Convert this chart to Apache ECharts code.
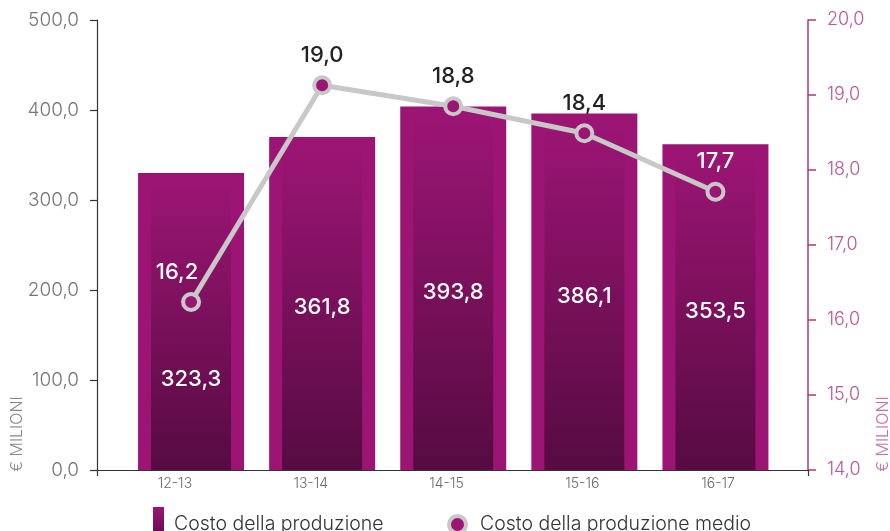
<!DOCTYPE html>
<html>
<head>
<meta charset="utf-8">
<script src="https://cdn.jsdelivr.net/npm/echarts@6/dist/echarts.min.js"></script>
<style>
html,body{margin:0;padding:0;background:#fff;}
#chart{width:890px;height:531px;}
</style>
</head>
<body>
<div id="chart"></div>
<script>
// ---- data ----
const categories = ['12-13', '13-14', '14-15', '15-16', '16-17'];
// printed values of "Costo della produzione" (€ milioni)
const costValues = [323.3, 361.8, 393.8, 386.1, 353.5];
// heights of the outer bar frame as drawn in the picture
const frameValues = [330, 370, 404, 396, 362];
// "Costo della produzione medio": positions as drawn, and printed labels
const avgValues = [16.24, 19.13, 18.85, 18.49, 17.71];
const avgLabels = ['16,2', '19,0', '18,8', '18,4', '17,7'];
const leftTicks = [0, 500, 100];
const rightTicks = [14, 20, 1];

const FONT = 'Inter, "Open Sans", sans-serif';
const MAG = '#9C1574';
const fmt = v => Number(v).toFixed(1).replace('.', ',');

const innerGrad = new echarts.graphic.LinearGradient(0, 0, 0, 1, [
  {offset: 0, color: '#9C1574'},
  {offset: 1, color: '#560B42'}
]);

const chart = echarts.init(document.getElementById('chart'), null, {renderer: 'canvas'});
chart.setOption({
  backgroundColor: '#ffffff',
  animation: false,
  textStyle: {fontFamily: FONT},
  grid: [
    {left: 125.5, right: 109, top: 20, bottom: 61},
    {left: 107, right: 104, top: 20, bottom: 61},
    {left: 97, right: 82, top: 20, bottom: 61}
  ],
  xAxis: [
    {type: 'category', gridIndex: 0, data: categories, show: false},
    {type: 'category', gridIndex: 0, data: categories, show: false},
    {type: 'category', gridIndex: 1, data: categories,
      axisLine: {show: false}, axisTick: {show: false},
      axisLabel: {color: '#6a6a6a', fontSize: 14, margin: 7, fontFamily: FONT, fontWeight: 300}},
    {type: 'value', gridIndex: 2, min: 0, max: 1, interval: 1,
      axisLine: {show: true, lineStyle: {color: '#333333', width: 1.2}},
      axisTick: {show: true, length: 6, lineStyle: {color: '#333333', width: 1.2}},
      axisLabel: {show: false}, splitLine: {show: false}}
  ],
  yAxis: [
    {type: 'value', gridIndex: 0, position: 'left', offset: 28.5,
      min: leftTicks[0], max: leftTicks[1], interval: leftTicks[2],
      axisLine: {show: true, lineStyle: {color: '#333333', width: 1.2}},
      axisTick: {show: true, length: 7, lineStyle: {color: '#333333', width: 1.2}},
      axisLabel: {color: '#777777', fontSize: 19, margin: 18, formatter: fmt, fontFamily: FONT, fontWeight: 300},
      splitLine: {show: false}},
    {type: 'value', gridIndex: 0, position: 'right', offset: 27,
      min: rightTicks[0], max: rightTicks[1], interval: rightTicks[2],
      axisLine: {show: true, lineStyle: {color: '#A8388A', width: 1.5}},
      axisTick: {show: true, length: 8, lineStyle: {color: '#A8388A', width: 1.5}},
      axisLabel: {color: '#B8559E', fontSize: 18, margin: 19, formatter: fmt, fontFamily: FONT, fontWeight: 300},
      splitLine: {show: false}},
    {type: 'value', gridIndex: 1, show: false},
    {type: 'value', gridIndex: 2, show: false}
  ],
  legend: [
    {data: ['Costo della produzione'], left: 148, top: 502, itemWidth: 11, itemHeight: 34,
      icon: 'rect', selectedMode: false,
      textStyle: {fontSize: 19.5, color: '#333333', fontFamily: FONT, fontWeight: 300, padding: [0, 0, 0, 5]}},
    {data: [{name: 'Costo della produzione medio', icon: 'circle'}], left: 442, top: 509,
      itemWidth: 17, itemHeight: 17, selectedMode: false,
      itemStyle: {color: MAG, borderColor: '#c8c8c8', borderWidth: 4},
      textStyle: {fontSize: 19.5, color: '#333333', fontFamily: FONT, fontWeight: 300, padding: [0, 0, 0, 9]}}
  ],
  graphic: [
    {type: 'text', x: 17, y: 434, rotation: Math.PI / 2,
      style: {text: '€ MILIONI', fill: '#888888', font: '300 16px ' + FONT, align: 'center', verticalAlign: 'middle'}},
    {type: 'text', x: 883, y: 434, rotation: Math.PI / 2,
      style: {text: '€ MILIONI', fill: '#C76BAB', font: '300 16px ' + FONT, align: 'center', verticalAlign: 'middle'}}
  ],
  series: [
    {name: 'frame', type: 'bar', xAxisIndex: 0, yAxisIndex: 0, barWidth: 106,
      data: frameValues, itemStyle: {color: MAG}, z: 1, silent: true},
    {name: 'Costo della produzione', type: 'bar', xAxisIndex: 1, yAxisIndex: 0, barWidth: 80,
      data: costValues.map((v, i) => i === 0 ? {value: v, label: {offset: [0, 55]}} : v),
      itemStyle: {color: innerGrad}, z: 2,
      label: {show: true, position: 'inside', color: '#ffffff', fontSize: 22, fontWeight: 500,
        fontFamily: FONT, formatter: p => fmt(p.value)}},
    {name: 'Costo della produzione medio', type: 'line', xAxisIndex: 0, yAxisIndex: 1,
      data: avgValues.map((v, i) => {
        if (i === 0) return {value: v, label: {color: '#ffffff', offset: [-14, 0]}};
        if (i === 4) return {value: v, label: {color: '#ffffff'}};
        return v;
      }),
      z: 5,
      lineStyle: {color: '#c8c8c8', width: 5},
      symbol: 'circle', symbolSize: 16,
      itemStyle: {color: MAG, borderColor: '#c8c8c8', borderWidth: 4},
      label: {show: true, position: 'top', distance: 9, color: '#222222', fontSize: 22,
        fontWeight: 500, fontFamily: FONT, formatter: p => avgLabels[p.dataIndex]}}
  ]
});
</script>
</body>
</html>
